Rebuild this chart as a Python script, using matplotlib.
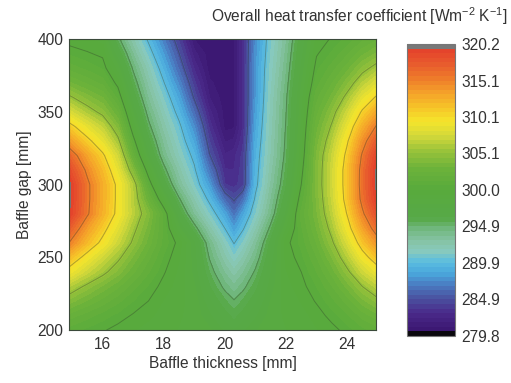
import numpy as np
import matplotlib
matplotlib.use('Agg')
import matplotlib.pyplot as plt
from matplotlib.colors import ListedColormap

plt.rcParams['font.family'] = ['Liberation Sans', 'DejaVu Sans']
plt.rcParams['mathtext.fontset'] = 'custom'
plt.rcParams['mathtext.rm'] = 'Liberation Sans'
plt.rcParams['mathtext.it'] = 'Liberation Sans:italic'

# ---------------- data ----------------
baffle_thickness = [14.9, 15.5, 16, 16.5, 17, 17.5, 18, 18.5, 19, 19.5, 20,
                    20.3, 20.6, 21, 21.5, 22, 22.5, 23, 23.5, 24, 24.5, 24.95]
baffle_gap = [200, 210, 220, 230, 240, 250, 260, 270, 280, 290, 300,
              310, 320, 330, 340, 350, 360, 370, 380, 390, 400]

u_200 = [300.9, 300.4, 300.1, 299.7, 299.4, 299.1, 298.9, 298.7, 298.6, 298.2, 297.3,
         296.8, 297.3, 298.0, 298.6, 298.7, 299.0, 299.3, 299.7, 300.3, 301.0, 301.5]
u_210 = [302.2, 301.5, 300.9, 300.4, 299.9, 299.5, 299.1, 298.8, 298.5, 297.55, 296.5,
         295.9, 296.5, 297.3, 298.35, 298.85, 299.1, 299.6, 300.3, 301.1, 302.1, 302.8]
u_220 = [304.1, 303.0, 302.2, 301.4, 300.6, 300.0, 299.3, 298.9, 298.45, 296.9, 295.65,
         295.0, 295.65, 296.65, 298.1, 299.0, 299.4, 300.1, 301.0, 302.1, 303.5, 304.5]
u_230 = [306.3, 304.7, 303.6, 302.6, 301.5, 300.5, 299.7, 299.05, 298.15, 296.2, 294.6,
         293.8, 294.6, 295.9, 297.7, 299.1, 299.7, 300.6, 301.8, 303.3, 305.1, 306.5]
u_240 = [309.2, 307.1, 305.6, 304.1, 302.6, 301.3, 300.1, 299.2, 297.85, 295.5, 293.57,
         292.6, 293.57, 295.1, 297.35, 299.3, 300.0, 301.2, 302.7, 304.7, 307.1, 308.8]
u_250 = [311.9, 309.2, 307.3, 305.5, 303.6, 302.0, 300.5, 299.4, 297.7, 294.8, 292.5,
         291.2, 292.4, 294.2, 296.9, 299.5, 300.4, 301.8, 303.7, 306.2, 309.1, 311.3]
u_260 = [315.1, 311.8, 309.5, 307.1, 304.8, 302.8, 301.0, 299.7, 297.5, 294.1, 291.5,
         289.8, 291.2, 293.3, 296.4, 299.7, 300.8, 302.5, 304.8, 307.7, 311.2, 313.8]
u_270 = [317.3, 313.5, 310.9, 308.3, 305.6, 303.4, 301.0, 298.2, 295.5, 292.55, 289.9,
         288.0, 289.75, 292.15, 295.25, 298.6, 301.1, 303.1, 305.7, 309.1, 313.1, 316.1]
u_280 = [319.6, 315.4, 312.4, 309.5, 306.5, 304.0, 300.9, 296.7, 293.5, 291.0, 288.3,
         286.2, 288.3, 291.0, 294.1, 297.5, 301.4, 303.6, 306.5, 310.2, 314.7, 318.0]
u_290 = [319.9, 315.6, 312.6, 309.6, 306.3, 302.45, 298.8, 295.1, 292.25, 289.45, 285.95,
         284.7, 286.15, 290.2, 293.55, 296.75, 300.7, 303.8, 307.0, 311.0, 315.8, 319.3]
u_300 = [319.9, 315.6, 312.6, 309.6, 306.1, 300.9, 296.7, 293.5, 291.0, 287.9, 283.6,
         283.25, 284.0, 289.4, 293.0, 296.0, 300.0, 304.0, 307.2, 311.2, 316.1, 319.7]
u_310 = [318.6, 314.6, 311.8, 308.45, 304.0, 299.2, 295.4, 292.6, 290.2, 286.45, 283.0,
         282.95, 283.9, 289.2, 292.65, 295.65, 299.55, 303.9, 307.2, 311.2, 316.0, 319.6]
u_320 = [316.7, 313.1, 310.5, 307.3, 301.9, 297.5, 294.1, 291.7, 289.4, 285.0, 282.4,
         282.7, 283.8, 289.0, 292.3, 295.3, 299.1, 303.8, 306.9, 310.7, 315.4, 318.9]
u_330 = [313.7, 310.7, 308.5, 305.6, 300.5, 296.4, 293.35, 291.0, 288.35, 284.15, 281.6,
         281.8, 283.4, 288.65, 292.15, 295.15, 298.9, 303.3, 306.2, 309.8, 314.1, 317.3]
u_340 = [310.9, 308.4, 306.7, 303.9, 299.1, 295.3, 292.6, 290.3, 287.3, 283.3, 280.8,
         280.9, 283.0, 288.3, 292.0, 295.0, 298.7, 302.8, 305.3, 308.5, 312.4, 315.2]
u_350 = [307.8, 305.9, 304.6, 302.4, 297.9, 294.4, 291.8, 289.3, 286.0, 282.45, 280.75,
         280.9, 283.0, 288.0, 291.85, 294.85, 298.5, 302.2, 304.4, 307.1, 310.4, 312.8]
u_360 = [305.4, 304.0, 303.1, 300.9, 296.7, 293.5, 291.0, 288.3, 284.7, 281.6, 280.7,
         280.85, 283.0, 287.75, 291.7, 294.7, 298.3, 301.6, 303.3, 305.6, 308.3, 310.3]
u_370 = [303.2, 302.3, 301.6, 299.6, 295.7, 292.7, 290.0, 287.1, 283.75, 281.15, 280.7,
         280.85, 283.0, 287.75, 291.5, 294.4, 297.9, 300.9, 302.4, 304.1, 306.3, 307.9]
u_380 = [301.6, 301.0, 300.5, 298.3, 294.7, 291.9, 289.0, 285.9, 282.8, 280.7, 280.7,
         280.85, 283.0, 287.75, 291.3, 294.1, 297.5, 300.4, 301.5, 302.8, 304.5, 305.7]
u_390 = [300.5, 300.1, 299.8, 296.8, 293.55, 290.75, 287.9, 284.95, 281.9, 280.65, 280.7,
         280.9, 283.0, 287.5, 291.1, 293.8, 297.1, 299.9, 300.7, 301.7, 302.9, 303.8]
u_400 = [299.6, 299.4, 299.1, 295.3, 292.4, 289.6, 286.8, 284.0, 281.0, 280.6, 280.7,
         280.9, 283.0, 287.3, 290.9, 293.5, 296.7, 299.5, 300.1, 300.8, 301.7, 302.3]

u_min, u_max = 279.8, 320.2
cbar_ticks = [279.8, 284.85, 289.9, 294.95, 300.0, 305.05, 310.1, 315.15, 320.2]
cbar_labels = ['279.8', '284.9', '289.9', '294.9', '300.0', '305.1', '310.1', '315.1', '320.2']
line_levels = [284.9, 289.9, 294.9, 300.0, 305.1, 310.1, 315.1]
x_ticks = [16, 18, 20, 22, 24]
y_ticks = [200, 250, 300, 350, 400]

# ---------------- colormap (64 bands, black bottom, gray top) ----------------
anchor_v = [280.5, 283.0, 285.0, 287.0, 288.5, 290.0, 291.5, 293.0, 294.5, 296.0,
            300.0, 303.0, 305.5, 307.5, 309.5, 311.5, 313.5, 315.5, 317.5, 319.5]
anchor_c = ['#3b1670', '#4a2a8a', '#4a52a0', '#4a7fc4', '#4aa8dc', '#5bbde0',
            '#88c9bd', '#86c3a4', '#72b882', '#57a948', '#58aa3c', '#6cb23a',
            '#9cc43a', '#d4d93a', '#f5e52b', '#f6c228', '#f4a02a', '#ee7a2a',
            '#e85a2d', '#e4412c']
n_bands = 64
rgb = np.array([matplotlib.colors.to_rgb(c) for c in anchor_c])
mids = u_min + (np.arange(n_bands) + 0.5) * (u_max - u_min) / n_bands
cols = np.column_stack([np.interp(mids, anchor_v, rgb[:, i]) for i in range(3)])
cols[0] = (0.04, 0.03, 0.05)
cols[-1] = (0.47, 0.47, 0.47)
cmap = ListedColormap(cols)
levels = np.linspace(u_min, u_max, n_bands + 1)

# ---------------- figure ----------------
fs = 11.2
fig = plt.figure(figsize=(5.11, 3.83), dpi=100)
ax = fig.add_axes([0.135, 0.138, 0.601, 0.760])
cax = fig.add_axes([0.796, 0.123, 0.094, 0.762])

Z = np.array([u_200, u_210, u_220, u_230, u_240, u_250, u_260, u_270, u_280, u_290,
              u_300, u_310, u_320, u_330, u_340, u_350, u_360, u_370, u_380, u_390,
              u_400])
cs = ax.contourf(baffle_thickness, baffle_gap, Z, levels=levels, cmap=cmap,
                 vmin=u_min, vmax=u_max)
cs.set_edgecolor('face')
cs.set_linewidth(0.5)
ax.contour(baffle_thickness, baffle_gap, Z, levels=line_levels,
           colors='#2a3a2a', linewidths=0.7, alpha=0.35)

ax.set_xlim(14.9, 24.95)
ax.set_ylim(200, 400)
ax.set_xticks(x_ticks)
ax.set_yticks(y_ticks)
ax.tick_params(length=0, labelsize=fs, colors='#333333')
ax.tick_params(axis='x', pad=5)
ax.tick_params(axis='y', pad=4)
for s in ax.spines.values():
    s.set_edgecolor('#3a4a3a')
    s.set_linewidth(0.8)
ax.set_xlabel('Baffle thickness [mm]', fontsize=fs, color='#333333', labelpad=3)
ax.set_ylabel('Baffle gap [mm]', fontsize=fs, color='#333333', labelpad=4)

cb = fig.colorbar(cs, cax=cax, ticks=cbar_ticks)
cb.ax.set_yticklabels(cbar_labels)
cb.ax.tick_params(length=0, labelsize=fs, colors='#333333', pad=5)
cb.outline.set_edgecolor('#777777')
cb.outline.set_linewidth(0.8)

fig.text(0.994, 0.958, 'Overall heat transfer coefficient [Wm$^{-2}$ K$^{-1}$]',
         ha='right', va='center', fontsize=fs, color='#333333')

fig.savefig('out.png', dpi=100)
